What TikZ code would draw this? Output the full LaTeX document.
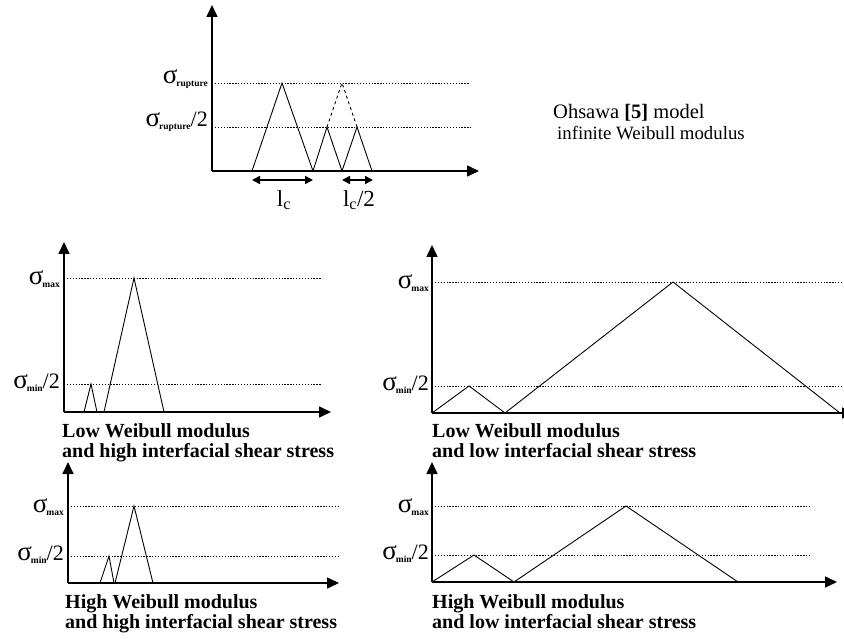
\documentclass[tikz,border=0pt]{standalone}
\usepackage{fontspec}
\setmainfont{Liberation Serif}
\usetikzlibrary{arrows.meta}

\newcommand{\sig}[1]{{\fontsize{27}{27}\selectfont σ}\kern-1pt\raisebox{-3pt}{\fontsize{9.5}{9.5}\selectfont\bfseries #1}}

\begin{document}
\begin{tikzpicture}[
  x=1pt, y=-1pt,
  axis/.style={line width=1.6pt, -{Triangle[length=12pt,width=11pt]}},
  level/.style={line width=0.8pt, dash pattern=on 1.3pt off 1.6pt},
  peak/.style={line width=0.9pt},
  span/.style={line width=1.6pt, {Triangle[length=8pt,width=8pt]}-{Triangle[length=8pt,width=8pt]}},
  lvl/.style={anchor=east, inner sep=1pt, font=\fontsize{22}{22}\selectfont},
  caption/.style={anchor=north west, align=left, inner sep=0pt,
              font=\fontsize{20}{20}\selectfont\bfseries}
]
  \useasboundingbox (0,0) rectangle (844,639);

  % Ohsawa model
  \coordinate (o1) at (212,171);
  \draw[axis] (o1) -- (212,5);
  \draw[axis] (o1) -- (479,171);
  \draw[level] (212,83) -- (470,83);
  \draw[level] (212,127) -- (471,127);
  \draw[peak] (252,171) -- (282,83) -- (313,171) -- (327,127) -- (342,171)
              -- (357,127) -- (372,171);
  \draw[peak, dashed] (327,127) -- (342,83) -- (357,127);
  \draw[span] (252,180) -- (313,180);
  \draw[span] (342,180) -- (373,180);
  \node[lvl] (r1) at (209,79) {\sig{rupture}};
  \node[lvl] (r2) at (209,122) {\sig{rupture}/2};
  \node[font=\fontsize{23}{23}\selectfont] (lc) at (284,200) {l\textsubscript{c}};
  \node[font=\fontsize{23}{23}\selectfont] (lc2) at (359,200) {l\textsubscript{c}/2};
  \node[anchor=base west, inner sep=0pt, font=\fontsize{20.5}{20}\selectfont] (m1) at (553,119)
      {Ohsawa \textbf{[5]} model};
  \node[anchor=base west, inner sep=0pt, font=\fontsize{18.8}{19}\selectfont] (m2) at (557,140)
      {infinite Weibull modulus};

  % low Weibull modulus, high shear stress
  \coordinate (o2) at (64,412);
  \draw[axis] (o2) -- (64,242);
  \draw[axis] (o2) -- (331,412);
  \draw[level] (64,278) -- (322,278);
  \draw[level] (64,384) -- (322,384);
  \draw[peak] (84,412) -- (91,384) -- (97,412);
  \draw[peak] (104,412) -- (134,278) -- (164,412);
  \node[lvl] (a1) at (61,279) {\sig{max}};
  \node[lvl] (a2) at (61,383) {\sig{min}/2};
  \node[caption] (c1) at (62,423) {Low Weibull modulus\\and high interfacial shear stress};

  % low Weibull modulus, low shear stress
  \coordinate (o3) at (432,413);
  \draw[axis] (o3) -- (432,245);
  \draw[axis] (o3) -- (854,413);
  \draw[level] (432,282) -- (844,282);
  \draw[level] (432,386) -- (844,386);
  \draw[peak] (432,413) -- (469,386) -- (505,413) -- (673,282) -- (840,413);
  \node[lvl] (b1) at (430,283) {\sig{max}};
  \node[lvl] (b2) at (430,385) {\sig{min}/2};
  \node[caption] (c2) at (432,423) {Low Weibull modulus\\and low interfacial shear stress};

  % high Weibull modulus, high shear stress
  \coordinate (o4) at (68,583);
  \draw[axis] (o4) -- (68,462);
  \draw[axis] (o4) -- (339,583);
  \draw[level] (68,506) -- (340,506);
  \draw[level] (68,556) -- (340,556);
  \draw[peak] (100,583) -- (109,556) -- (114,583);
  \draw[peak] (115,583) -- (134,506) -- (153,583);
  \node[lvl] (d1) at (65,507) {\sig{max}};
  \node[lvl] (d2) at (65,555) {\sig{min}/2};
  \node[caption] (c3) at (65,594) {High Weibull modulus\\and high interfacial shear stress};

  % high Weibull modulus, low shear stress
  \coordinate (o5) at (432,582);
  \draw[axis] (o5) -- (432,462);
  \draw[axis] (o5) -- (837,582);
  \draw[level] (432,506) -- (810,506);
  \draw[level] (432,555) -- (810,555);
  \draw[peak] (432,582) -- (474,555) -- (514,582) -- (626,506) -- (738,582);
  \node[lvl] (e1) at (430,507) {\sig{max}};
  \node[lvl] (e2) at (430,554) {\sig{min}/2};
  \node[caption] (c4) at (432,594) {High Weibull modulus\\and low interfacial shear stress};
\end{tikzpicture}
\end{document}
